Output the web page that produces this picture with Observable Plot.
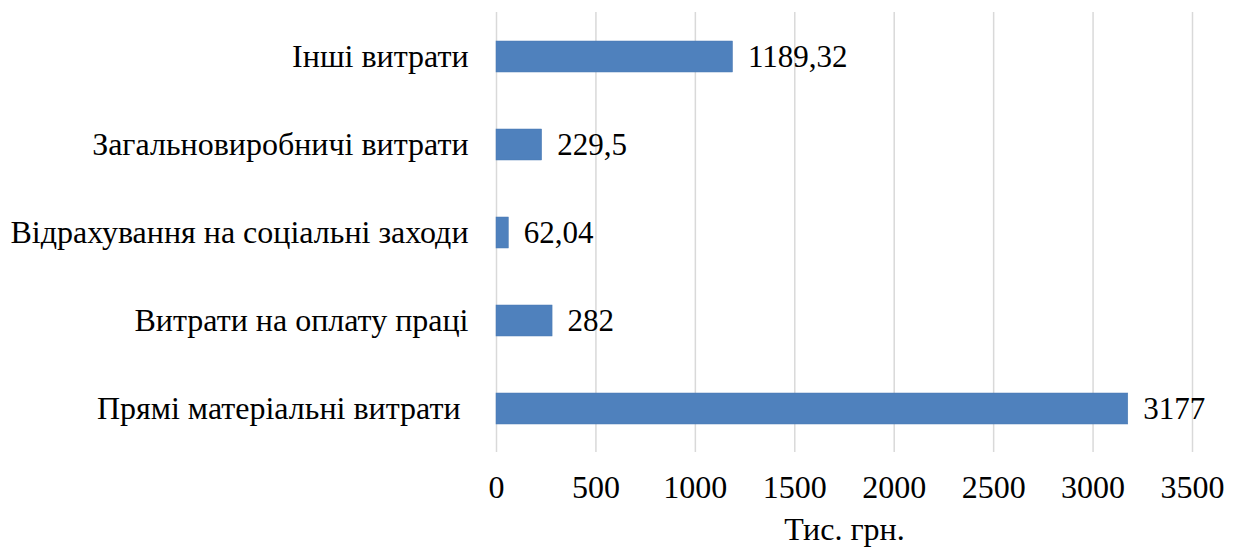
<!DOCTYPE html>
<html><head><meta charset="utf-8">
<script src="https://cdn.jsdelivr.net/npm/d3@7"></script>
<script src="https://cdn.jsdelivr.net/npm/@observablehq/plot@0.6"></script>
<style>
html,body{margin:0;padding:0;background:#fff;}
</style>
</head><body><div id="chart"></div>
<script>
const categories = ["Інші витрати","Загальновиробничі витрати","Відрахування на соціальні заходи","Витрати на оплату праці","Прямі матеріальні витрати\u00A0"];
const values = [1189.32, 229.5, 62.04, 282, 3177];
const valueLabels = ["1189,32","229,5","62,04","282","3177"];
const xTicks = [0,500,1000,1500,2000,2500,3000,3500];
const xTitle = "Тис. грн.";

const data = categories.map((c,i)=>({cat:c, v:values[i], lab:valueLabels[i]}));
const FF = "'Liberation Serif', 'Times New Roman', serif";

const chart = Plot.plot({
  width: 1233, height: 550,
  marginLeft: 496, marginRight: 41, marginTop: 12, marginBottom: 98,
  style: {fontFamily: FF, fontSize: "32px", color: "#000", background: "#fff"},
  x: {domain: [0,3500], ticks: xTicks},
  y: {domain: categories, paddingInner: 0.65, paddingOuter: 0.325},
  marks: [
    Plot.gridX(xTicks, {stroke: "#d9d9d9", strokeOpacity: 1, strokeWidth: 1.5}),
    Plot.barX(data, {x: "v", y: "cat", fill: "#4f81bd", stroke: "#4a7ab3", strokeWidth: 0.5}),
    Plot.text(data, {x: "v", y: "cat", text: "lab", textAnchor: "start", dx: 15, fontSize: 31, fontFamily: FF, fill: "#000"}),
    Plot.axisX({ticks: xTicks, tickSize: 0, tickPadding: 23, fontSize: 32, fontFamily: FF, label: xTitle, labelAnchor: "center", labelArrow: "none", labelOffset: 87, tickFormat: d=>String(d)}),
    Plot.axisY({tickSize: 0, tickPadding: 28, fontSize: 32, fontFamily: FF, label: null})
  ]
});
document.getElementById("chart").appendChild(chart);
</script>
</body></html>
